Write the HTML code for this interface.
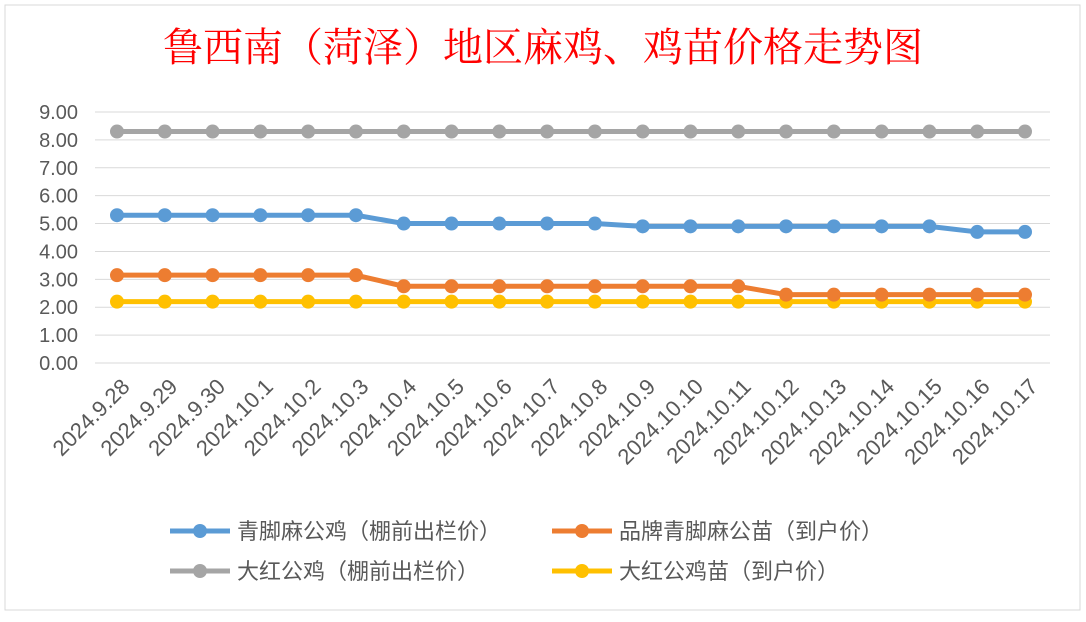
<!DOCTYPE html>
<html><head><meta charset="utf-8">
<style>
body{margin:0;background:#fff;width:1086px;height:617px;overflow:hidden;font-family:"Liberation Sans","Noto Sans CJK SC",sans-serif;}
</style></head>
<body>
<svg width="1086" height="617" xmlns="http://www.w3.org/2000/svg">
<rect x="5" y="5" width="1075" height="605" fill="#fff" stroke="#d9d9d9"/>
<text x="543" y="61" text-anchor="middle" font-size="40" fill="#ff0000" font-family="'Noto Serif CJK SC','Noto Sans CJK SC',serif">鲁西南（菏泽）地区麻鸡、鸡苗价格走势图</text>
<g id="grid"></g><g id="yt"></g><g id="xt"></g><g id="series"></g><g id="legend"></g>
</svg>
<script>
const categories=["2024.9.28","2024.9.29","2024.9.30","2024.10.1","2024.10.2","2024.10.3","2024.10.4","2024.10.5","2024.10.6","2024.10.7","2024.10.8","2024.10.9","2024.10.10","2024.10.11","2024.10.12","2024.10.13","2024.10.14","2024.10.15","2024.10.16","2024.10.17"];
const blueVals=[5.3,5.3,5.3,5.3,5.3,5.3,5.0,5.0,5.0,5.0,5.0,4.9,4.9,4.9,4.9,4.9,4.9,4.9,4.7,4.7];
const orangeVals=[3.15,3.15,3.15,3.15,3.15,3.15,2.75,2.75,2.75,2.75,2.75,2.75,2.75,2.75,2.45,2.45,2.45,2.45,2.45,2.45];
const grayVals=[8.3,8.3,8.3,8.3,8.3,8.3,8.3,8.3,8.3,8.3,8.3,8.3,8.3,8.3,8.3,8.3,8.3,8.3,8.3,8.3];
const yellowVals=[2.2,2.2,2.2,2.2,2.2,2.2,2.2,2.2,2.2,2.2,2.2,2.2,2.2,2.2,2.2,2.2,2.2,2.2,2.2,2.2];
const yTicks=["0.00","1.00","2.00","3.00","4.00","5.00","6.00","7.00","8.00","9.00"];
const seriesNames=["青脚麻公鸡（棚前出栏价）","品牌青脚麻公苗（到户价）","大红公鸡（棚前出栏价）","大红公鸡苗（到户价）"];
const NS="http://www.w3.org/2000/svg";
const x=i=>117+i*(1025-117)/(categories.length-1);
const y=v=>363-v*(363-112)/9;
function mk(t,a,p){const e=document.createElementNS(NS,t);for(const k in a)e.setAttribute(k,a[k]);p.appendChild(e);return e;}
const grid=document.getElementById('grid'),yt=document.getElementById('yt'),xt=document.getElementById('xt');
yTicks.forEach((t,i)=>{const v=parseFloat(t);
const l=mk('line',{x1:95,x2:1050,y1:y(v),y2:y(v),stroke:'#d9d9d9'},grid);


const tx=mk('text',{x:78,y:y(v)+7,'text-anchor':'end','font-size':20,fill:'#595959'},yt);tx.textContent=t;

});
categories.forEach((c,i)=>{const ax=x(i)+14,ay=388;
const tx=mk('text',{x:ax,y:ay,'text-anchor':'end','font-size':22,fill:'#595959',transform:`rotate(-45 ${ax} ${ay})`},xt);tx.textContent=c;

});
const S=document.getElementById('series');
function draw(vals,col,name){const g=mk('g',{},S);


mk('polyline',{points:vals.map((v,i)=>x(i)+','+y(v)).join(' '),fill:'none',stroke:col,'stroke-width':5,'stroke-linejoin':'round'},g);
vals.forEach((v,i)=>{const c=mk('circle',{cx:x(i),cy:y(v),r:7,fill:col},g);

});}
draw(grayVals,'#a5a5a5','series-gray');
draw(blueVals,'#5b9bd5','series-blue');
draw(yellowVals,'#ffc000','series-yellow');
draw(orangeVals,'#ed7d31','series-orange');
const L=document.getElementById('legend');
const lp=[[170,531,'#5b9bd5'],[552,531,'#ed7d31'],[170,571,'#a5a5a5'],[552,571,'#ffc000']];
lp.forEach((p,i)=>{const g=mk('g',{},L);


mk('line',{x1:p[0],x2:p[0]+60,y1:p[1],y2:p[1],stroke:p[2],'stroke-width':5},g);
mk('circle',{cx:p[0]+30,cy:p[1],r:7,fill:p[2]},g);
const t=mk('text',{x:p[0]+67,y:p[1]+8,'font-size':22,fill:'#595959'},g);t.textContent=seriesNames[i];});
</script>
</body></html>
